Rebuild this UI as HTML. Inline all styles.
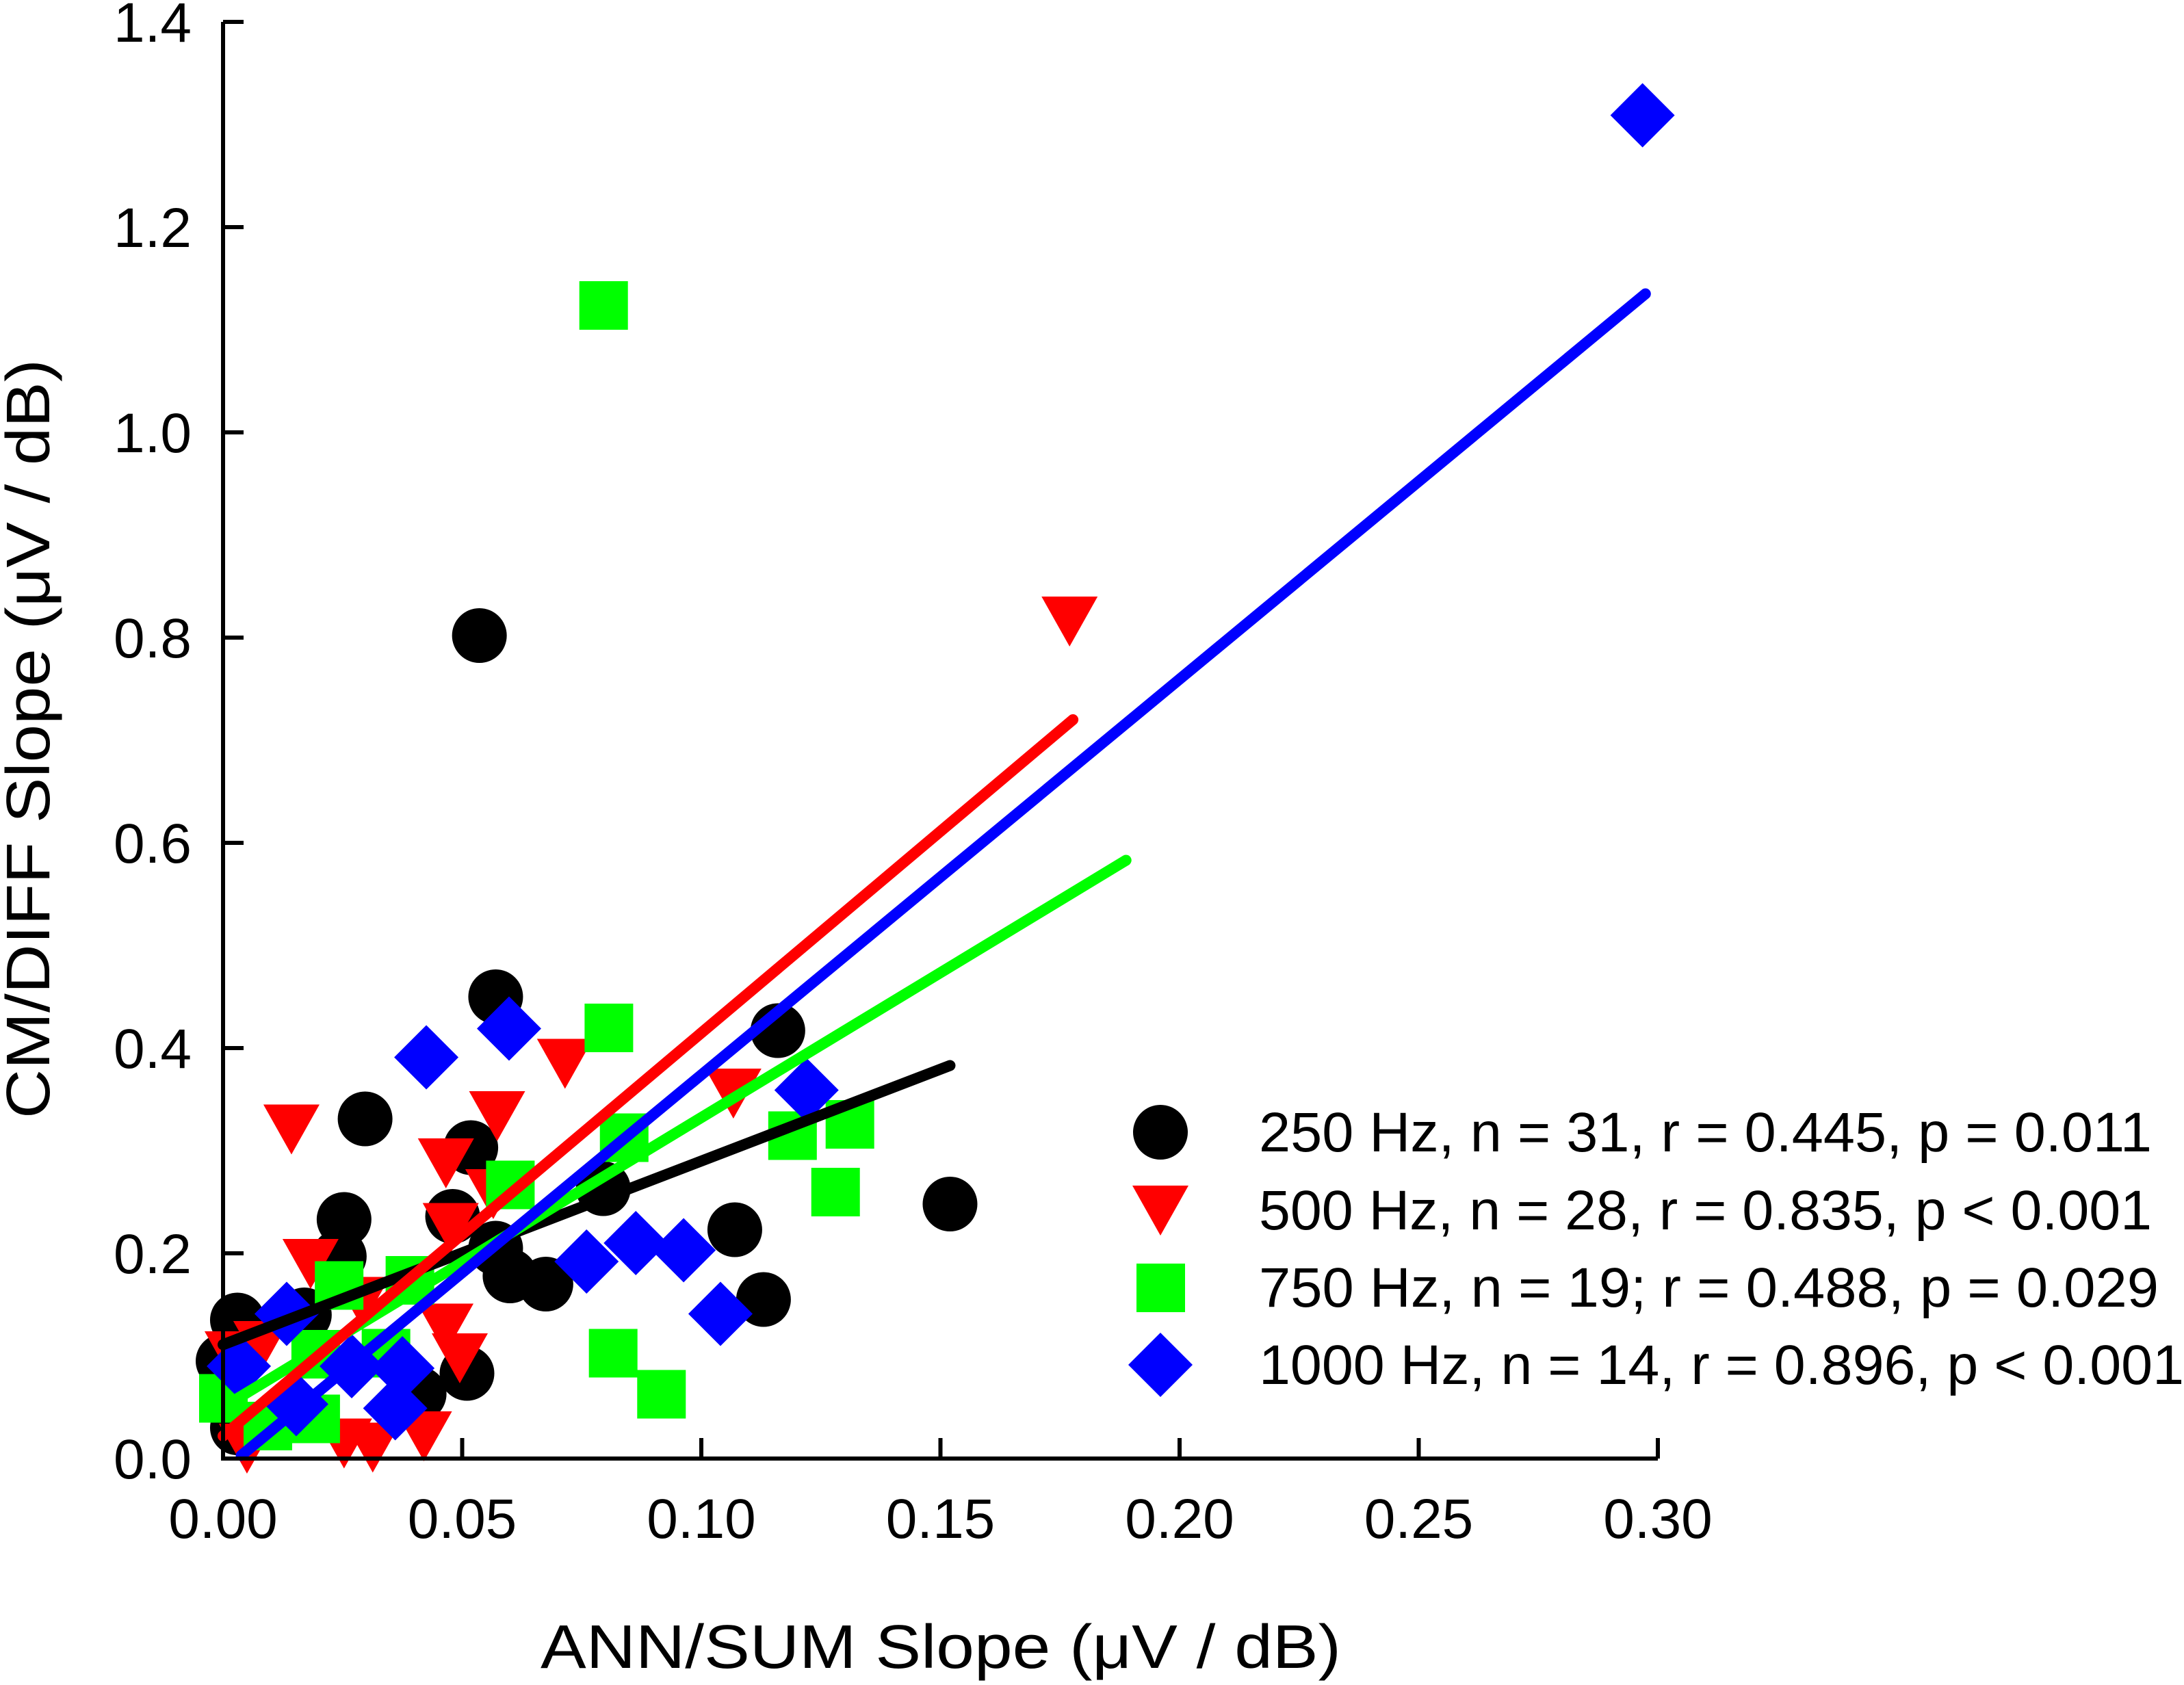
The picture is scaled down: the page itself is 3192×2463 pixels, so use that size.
<!DOCTYPE html>
<html><head><meta charset="utf-8"><style>
html,body{margin:0;padding:0;background:#fff;}
svg{display:block;font-family:"Liberation Sans",Arial,sans-serif;}
</style></head><body>
<svg id="chart" xmlns="http://www.w3.org/2000/svg" width="3192" height="2463" viewBox="0 0 3192 2463">
<g id="marks"></g>
<g id="axes"></g>
<g id="legend"></g>
</svg>
<script>
const xTicks=[0,0.05,0.10,0.15,0.20,0.25,0.30];
const xTickLabels=["0.00","0.05","0.10","0.15","0.20","0.25","0.30"];
const yTicks=[0,0.2,0.4,0.6,0.8,1.0,1.2,1.4];
const yTickLabels=["0.0","0.2","0.4","0.6","0.8","1.0","1.2","1.4"];
const s250x=[0.0536,0.057,0.116,0.0297,0.0518,0.0253,0.048,0.0795,0.107,0.113,0.152,0.0243,0.057,0.060,0.0675,0.003,0.0,0.017,0.051,0.041,0.003];
const s250y=[0.802,0.450,0.417,0.331,0.303,0.233,0.236,0.263,0.223,0.155,0.248,0.197,0.205,0.178,0.170,0.135,0.095,0.14,0.083,0.063,0.03];
const s500x=[0.0143,0.0715,0.0573,0.0466,0.0476,0.1067,0.0183,0.0465,0.0495,0.0565,0.0253,0.0313,0.042,0.029,0.002,0.008,0.005,0.177];
const s500y=[0.321,0.385,0.334,0.288,0.225,0.356,0.19,0.127,0.098,0.258,0.015,0.011,0.022,0.153,0.10,0.11,0.01,0.816];
const s750x=[0.0806,0.0838,0.060,0.119,0.131,0.128,0.0815,0.0916,0.0242,0.039,0.0193,0.0193,0.0,0.0093,0.034,0.0795];
const s750y=[0.42,0.313,0.267,0.315,0.326,0.26,0.103,0.063,0.169,0.174,0.102,0.039,0.059,0.032,0.103,1.124];
const s1000x=[0.0425,0.0598,0.122,0.076,0.0863,0.0963,0.104,0.0133,0.0033,0.0153,0.0269,0.0375,0.036,0.2968];
const s1000y=[0.391,0.419,0.359,0.192,0.21,0.203,0.141,0.141,0.09,0.053,0.09,0.088,0.049,1.309];
const fit250=[[0,0.111],[0.152,0.383]];
const fit500=[[0,0.022],[0.1777,0.72]];
const fit750=[[0,0.05],[0.1888,0.583]];
const fit1000=[[0.0038,0.003],[0.2974,1.135]];
const legendLabels=["250 Hz, n = 31, r = 0.445, p = 0.011","500 Hz, n = 28, r = 0.835, p < 0.001","750 Hz, n = 19; r = 0.488, p = 0.029","1000 Hz, n = 14, r = 0.896, p < 0.001"];

const NS="http://www.w3.org/2000/svg";
const X0=326,X1=2423,Y0=2132,Y1=32;
function sx(v){return X0+(v-0)/(0.30)*(X1-X0);}
function sy(v){return Y0-(v/1.4)*(Y0-Y1);}
function mk(tag,attrs,parent){const e=document.createElementNS(NS,tag);for(const k in attrs)e.setAttribute(k,attrs[k]);parent.appendChild(e);return e;}
const marks=document.getElementById('marks'),axes=document.getElementById('axes'),legend=document.getElementById('legend');

function drawMarker(type,cx,cy,parent){
  let e;
  if(type==='circle'){e=mk('ellipse',{cx:cx,cy:cy,rx:40,ry:40,fill:'#000'},parent);}
  else if(type==='tri'){e=mk('polygon',{points:`${cx-41},${cy-36} ${cx+41},${cy-36} ${cx},${cy+37}`,fill:'#ff0000'},parent);}
  else if(type==='sq'){e=mk('rect',{x:cx-35,y:cy-35,width:71,height:71,fill:'#00ff00'},parent);}
  else {e=mk('polygon',{points:`${cx},${cy-47} ${cx+47},${cy} ${cx},${cy+47} ${cx-47},${cy}`,fill:'#0000ff'},parent);}
  return e;
}
function drawSeries(xs,ys,type,name){
  const g=mk('g',{},marks);
  
  
  for(let i=0;i<xs.length;i++){
    const e=drawMarker(type,sx(xs[i]),sy(ys[i]),g);
    
    
  }
}
function drawFit(f,color,name){
  const l=mk('line',{x1:sx(f[0][0]),y1:sy(f[0][1]),x2:sx(f[1][0]),y2:sy(f[1][1]),stroke:color,'stroke-width':16,'stroke-linecap':'round'},marks);
  
  
}
drawSeries(s250x,s250y,'circle','hz250');
drawSeries(s500x,s500y,'tri','hz500');
drawSeries(s750x,s750y,'sq','hz750');
drawSeries(s1000x,s1000y,'dia','hz1000');
drawFit(fit250,'#000','hz250');
drawFit(fit750,'#00ff00','hz750');
drawFit(fit500,'#ff0000','hz500');
drawFit(fit1000,'#0000ff','hz1000');

let a=mk('line',{x1:X0,y1:Y1,x2:X0,y2:Y0,stroke:'#000','stroke-width':6},axes);


a=mk('line',{x1:X0-3,y1:Y0,x2:X1,y2:Y0,stroke:'#000','stroke-width':6},axes);


xTicks.forEach((v,i)=>{
  const t=mk('line',{x1:sx(v),y1:Y0,x2:sx(v),y2:Y0-30,stroke:'#000','stroke-width':6},axes);
  
  
  const tx=mk('text',{x:sx(v),y:Y0+116,'font-size':82,'text-anchor':'middle',fill:'#000'},axes);
  tx.textContent=xTickLabels[i];
  
  
});
yTicks.forEach((v,i)=>{
  const t=mk('line',{x1:X0,y1:sy(v),x2:X0+30,y2:sy(v),stroke:'#000','stroke-width':6},axes);
  
  
  const tx=mk('text',{x:280,y:sy(v)+29,'font-size':82,'text-anchor':'end',fill:'#000'},axes);
  tx.textContent=yTickLabels[i];
  
  
});
let tt=mk('text',{x:1375,y:2438,'font-size':90,'text-anchor':'middle',textLength:1170,lengthAdjust:'spacingAndGlyphs'},axes);
tt.textContent='ANN/SUM Slope (\u03BCV / dB)';


tt=mk('text',{x:0,y:0,'font-size':90,'text-anchor':'middle',textLength:1110,lengthAdjust:'spacingAndGlyphs',transform:'translate(72,1080) rotate(-90)'},axes);
tt.textContent='CM/DIFF Slope (\u03BCV / dB)';



const types=['circle','tri','sq','dia'];
const lens=[1305,1305,1315,1352];
const baseY=[1683,1797,1910,2023];
for(let i=0;i<4;i++){
  const g=mk('g',{},legend);
  
  
  const m=drawMarker(types[i],1696,baseY[i]-28,g);
  
  
  const t=mk('text',{x:1840,y:baseY[i],'font-size':82,textLength:lens[i],lengthAdjust:'spacingAndGlyphs'},g);
  t.textContent=legendLabels[i];
  
  
}
</script>
</body></html>
